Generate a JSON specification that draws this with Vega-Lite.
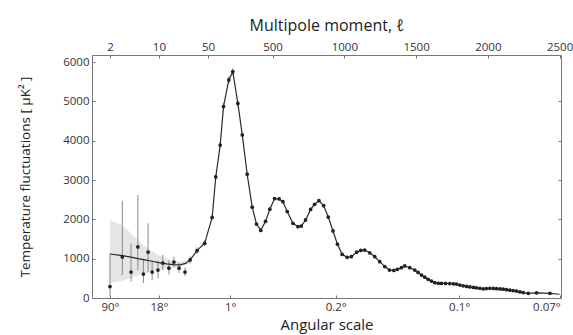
{
  "$schema": "https://vega.github.io/schema/vega-lite/v6.json",
  "width": 469,
  "height": 243,
  "autosize": {"type": "none"},
  "padding": {"left": 92, "top": 55, "right": 12, "bottom": 37},
  "background": "white",
  "config": {
    "font": "Open Sans",
    "view": {"stroke": "#777", "strokeWidth": 1},
    "axis": {"domain": false, "grid": false, "labelColor": "#333", "titleColor": "#222", "tickColor": "#777", "labelFontSize": 11.5, "titleFontWeight": "normal"}
  },
  "datasets": {
    "band": [
      {"l": 2, "lo": 380, "hi": 1980},
      {"l": 3, "lo": 440, "hi": 1850},
      {"l": 4, "lo": 510, "hi": 1650},
      {"l": 5, "lo": 570, "hi": 1480},
      {"l": 6, "lo": 620, "hi": 1350},
      {"l": 8, "lo": 680, "hi": 1190},
      {"l": 10, "lo": 720, "hi": 1090},
      {"l": 15, "lo": 770, "hi": 970},
      {"l": 20, "lo": 790, "hi": 920},
      {"l": 28, "lo": 880, "hi": 1000}
    ],
    "pts": [
      {"l": 2, "D": 1120, "kind": "model"},
      {"l": 3, "D": 1080, "kind": "model"},
      {"l": 4, "D": 1040, "kind": "model"},
      {"l": 5, "D": 1000, "kind": "model"},
      {"l": 6, "D": 975, "kind": "model"},
      {"l": 8, "D": 935, "kind": "model"},
      {"l": 10, "D": 900, "kind": "model"},
      {"l": 13, "D": 870, "kind": "model"},
      {"l": 16, "D": 850, "kind": "model"},
      {"l": 20, "D": 845, "kind": "model"},
      {"l": 24, "D": 880, "kind": "model"},
      {"l": 2, "D": 290, "lo": 40, "hi": 1130, "kind": "lowl"},
      {"l": 3, "D": 1045, "lo": 585, "hi": 2475, "kind": "lowl"},
      {"l": 4, "D": 660, "lo": 415, "hi": 1390, "kind": "lowl"},
      {"l": 5, "D": 1300, "lo": 700, "hi": 2620, "kind": "lowl"},
      {"l": 6, "D": 610, "lo": 380, "hi": 1000, "kind": "lowl"},
      {"l": 7, "D": 1170, "lo": 650, "hi": 1900, "kind": "lowl"},
      {"l": 8, "D": 660, "lo": 450, "hi": 950, "kind": "lowl"},
      {"l": 9.7, "D": 710, "lo": 500, "hi": 950, "kind": "lowl"},
      {"l": 11.4, "D": 890, "lo": 700, "hi": 1100, "kind": "lowl"},
      {"l": 13.9, "D": 760, "lo": 600, "hi": 950, "kind": "lowl"},
      {"l": 16.4, "D": 915, "lo": 780, "hi": 1050, "kind": "lowl"},
      {"l": 19.4, "D": 760, "lo": 640, "hi": 900, "kind": "lowl"},
      {"l": 23.6, "D": 660, "lo": 560, "hi": 780, "kind": "lowl"},
      {"l": 28, "D": 970, "lo": 880, "hi": 1060, "kind": "bin"},
      {"l": 35, "D": 1204, "lo": 1120, "hi": 1290, "kind": "bin"},
      {"l": 45, "D": 1392, "lo": 1320, "hi": 1470, "kind": "bin"},
      {"l": 79, "D": 2050, "kind": "bin"},
      {"l": 104, "D": 3080, "lo": 3020, "hi": 3140, "kind": "bin"},
      {"l": 135, "D": 3890, "lo": 3810, "hi": 3970, "kind": "bin"},
      {"l": 158, "D": 4870, "lo": 4770, "hi": 4970, "kind": "bin"},
      {"l": 195, "D": 5550, "lo": 5450, "hi": 5650, "kind": "bin"},
      {"l": 223, "D": 5760, "lo": 5670, "hi": 5850, "kind": "bin"},
      {"l": 258, "D": 4950, "lo": 4870, "hi": 5030, "kind": "bin"},
      {"l": 289, "D": 4150, "kind": "bin"},
      {"l": 323, "D": 3150, "kind": "bin"},
      {"l": 358, "D": 2310, "kind": "bin"},
      {"l": 388, "D": 1880, "kind": "bin"},
      {"l": 418, "D": 1720, "kind": "bin"},
      {"l": 451, "D": 1950, "kind": "bin"},
      {"l": 481, "D": 2260, "kind": "bin"},
      {"l": 514, "D": 2530, "kind": "bin"},
      {"l": 546, "D": 2520, "kind": "bin"},
      {"l": 572, "D": 2450, "kind": "bin"},
      {"l": 602, "D": 2200, "kind": "bin"},
      {"l": 642, "D": 1900, "kind": "bin"},
      {"l": 677, "D": 1815, "kind": "bin"},
      {"l": 700, "D": 1830, "kind": "bin"},
      {"l": 730, "D": 1985, "kind": "bin"},
      {"l": 765, "D": 2255, "kind": "bin"},
      {"l": 793, "D": 2385, "kind": "bin"},
      {"l": 823, "D": 2475, "kind": "bin"},
      {"l": 856, "D": 2350, "kind": "bin"},
      {"l": 888, "D": 2060, "kind": "bin"},
      {"l": 921, "D": 1705, "kind": "bin"},
      {"l": 952, "D": 1370, "kind": "bin"},
      {"l": 985, "D": 1110, "kind": "bin"},
      {"l": 1020, "D": 1035, "kind": "bin"},
      {"l": 1049, "D": 1050, "kind": "bin"},
      {"l": 1086, "D": 1165, "kind": "bin"},
      {"l": 1115, "D": 1210, "kind": "bin"},
      {"l": 1142, "D": 1220, "kind": "bin"},
      {"l": 1177, "D": 1150, "kind": "bin"},
      {"l": 1212, "D": 1050, "kind": "bin"},
      {"l": 1247, "D": 925, "kind": "bin"},
      {"l": 1282, "D": 800, "kind": "bin"},
      {"l": 1315, "D": 710, "kind": "bin"},
      {"l": 1345, "D": 700, "kind": "bin"},
      {"l": 1370, "D": 730, "kind": "bin"},
      {"l": 1398, "D": 770, "kind": "bin"},
      {"l": 1421, "D": 815, "kind": "bin"},
      {"l": 1456, "D": 770, "kind": "bin"},
      {"l": 1491, "D": 710, "kind": "bin"},
      {"l": 1514, "D": 650, "kind": "bin"},
      {"l": 1538, "D": 585, "kind": "bin"},
      {"l": 1561, "D": 530, "kind": "bin"},
      {"l": 1584, "D": 475, "kind": "bin"},
      {"l": 1607, "D": 430, "kind": "bin"},
      {"l": 1630, "D": 390, "kind": "bin"},
      {"l": 1655, "D": 375, "kind": "bin"},
      {"l": 1677, "D": 372, "kind": "bin"},
      {"l": 1705, "D": 370, "kind": "bin"},
      {"l": 1735, "D": 368, "kind": "bin"},
      {"l": 1760, "D": 362, "kind": "bin"},
      {"l": 1782, "D": 355, "kind": "bin"},
      {"l": 1805, "D": 330, "kind": "bin"},
      {"l": 1828, "D": 310, "kind": "bin"},
      {"l": 1852, "D": 295, "kind": "bin"},
      {"l": 1875, "D": 282, "kind": "bin"},
      {"l": 1900, "D": 268, "kind": "bin"},
      {"l": 1921, "D": 258, "kind": "bin"},
      {"l": 1945, "D": 245, "kind": "bin"},
      {"l": 1968, "D": 235, "kind": "bin"},
      {"l": 1990, "D": 240, "kind": "bin"},
      {"l": 2014, "D": 245, "kind": "bin"},
      {"l": 2038, "D": 242, "kind": "bin"},
      {"l": 2061, "D": 238, "kind": "bin"},
      {"l": 2085, "D": 232, "kind": "bin"},
      {"l": 2107, "D": 225, "kind": "bin"},
      {"l": 2130, "D": 212, "kind": "bin"},
      {"l": 2154, "D": 200, "kind": "bin"},
      {"l": 2177, "D": 188, "kind": "bin"},
      {"l": 2200, "D": 175, "kind": "bin"},
      {"l": 2224, "D": 155, "kind": "bin"},
      {"l": 2247, "D": 138, "kind": "bin"},
      {"l": 2282, "D": 120, "kind": "bin"},
      {"l": 2340, "D": 132, "kind": "bin"},
      {"l": 2433, "D": 118, "kind": "bin"},
      {"l": 2500, "D": 95, "kind": "model"}
    ]
  },
  "resolve": {"axis": {"x": "independent", "y": "independent"}},
  "layer": [
    {
      "data": {"name": "band"},
      "mark": {"type": "area", "color": "#e2e2e2", "opacity": 0.9},
      "encoding": {
        "x": {"field": "l", "type": "quantitative",
          "scale": {"type": "linear", "nice": false, "zero": false,
            "domain": [1.1, 2, 3, 4, 5, 6, 7, 8, 9, 10, 12, 14, 16, 18, 20, 23, 26, 30, 35, 40, 45, 50, 2510],
            "range": [0, 18, 30.33, 39.07, 45.85, 51.4, 56.09, 60.14, 63.73, 66.93, 72.47, 77.16, 81.22, 84.8, 88, 92.25, 95.97, 100.33, 105.01, 109.07, 112.65, 116, 469]},
          "axis": {"orient": "top", "values": [2, 10, 50, 500, 1000, 1500, 2000, 2500], "format": "d", "tickSize": -3, "labelPadding": 6, "title": "Multipole moment, ℓ", "titleFontSize": 16, "titlePadding": 8}},
        "y": {"field": "lo", "type": "quantitative",
          "scale": {"domain": [0, 6183], "nice": false, "zero": false},
          "axis": {"orient": "left", "values": [0, 1000, 2000, 3000, 4000, 5000, 6000], "format": "d", "tickSize": -3, "labelPadding": 6, "title": "Temperature fluctuations [ μK² ]", "titleFontSize": 13.5, "titlePadding": 30}},
        "y2": {"field": "hi"}
      }
    },
    {
      "data": {"name": "pts"},
      "transform": [{"filter": "isValid(datum.lo)"}],
      "mark": {"type": "rule", "color": "#8a8a8a", "strokeWidth": 1},
      "encoding": {
        "x": {"field": "l", "type": "quantitative",
          "axis": {"orient": "bottom", "values": [2, 10, 205, 940, 1800, 2505], "tickSize": -3, "labelPadding": 6,
            "labelExpr": "datum.value == 2 ? '90°' : datum.value == 10 ? '18°' : datum.value == 205 ? '1°' : datum.value == 940 ? '0.2°' : datum.value == 1800 ? '0.1°' : '0.07°'",
            "title": "Angular scale", "titleFontSize": 15, "titlePadding": 5}},
        "y": {"field": "lo", "type": "quantitative",
          "axis": {"orient": "right", "values": [1000, 2000, 3000, 4000, 5000], "tickSize": -3, "labels": false, "title": null}},
        "y2": {"field": "hi"}
      }
    },
    {
      "data": {"name": "pts"},
      "transform": [{"filter": "datum.kind != 'lowl'"}],
      "mark": {"type": "line", "color": "#2a2a2a", "strokeWidth": 1.2},
      "encoding": {
        "x": {"field": "l", "type": "quantitative", "axis": null},
        "y": {"field": "D", "type": "quantitative", "axis": null}
      }
    },
    {
      "data": {"name": "pts"},
      "transform": [{"filter": "datum.kind != 'model'"}],
      "mark": {"type": "point", "filled": true, "color": "#222", "size": 14, "opacity": 1},
      "encoding": {
        "x": {"field": "l", "type": "quantitative", "axis": null},
        "y": {"field": "D", "type": "quantitative", "axis": null}
      }
    }
  ]
}
